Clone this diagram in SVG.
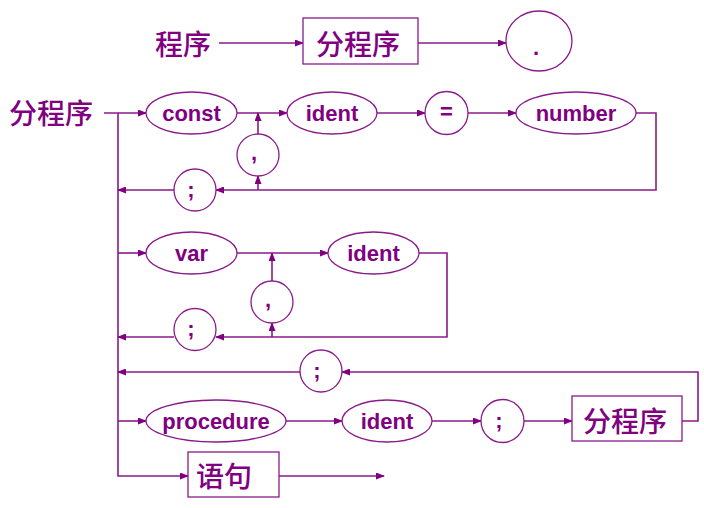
<svg xmlns="http://www.w3.org/2000/svg" width="704" height="508" viewBox="0 0 704 508">
<style>
.shape{fill:#fff;stroke:#8a1a8a;stroke-width:1.3}
.ln{fill:none;stroke:#8a1a8a;stroke-width:1.6;marker-end:url(#arr)}
.t{font-family:"Liberation Sans",Arial,sans-serif;font-weight:bold;font-size:22px;fill:#800080;text-anchor:middle}
.cn{font-family:"Noto Sans CJK SC","Noto Sans CJK TC",sans-serif;font-size:28px;font-weight:500;fill:#800080}
</style>
<defs>
<marker id="arr" markerWidth="9" markerHeight="7" refX="8" refY="3.5" orient="auto" markerUnits="userSpaceOnUse">
<path d="M0,0 L9,3.5 L0,7 z" fill="#800080"/>
</marker>
</defs>
<rect width="704" height="508" fill="#fff"/>
<g id="connectors">
<path class="ln" d="M219,43 H303"/>
<path class="ln" d="M418,43 H506"/>
<path class="ln" d="M104,113 H146"/>
<path class="ln" d="M118,113 V476 H188"/>
<path class="ln" d="M237,113 H287"/>
<path class="ln" d="M258,134 V113"/>
<path class="ln" d="M377,113 H425"/>
<path class="ln" d="M468,113 H516"/>
<path class="ln" d="M636,113 H656 V190 H216"/>
<path class="ln" d="M258,190 V176"/>
<path class="ln" d="M174,190 H118"/>
<path class="ln" d="M118,253 H146"/>
<path class="ln" d="M237,253 H328"/>
<path class="ln" d="M272,281 V253"/>
<path class="ln" d="M419,253 H447 V337 H216"/>
<path class="ln" d="M272,337 V323"/>
<path class="ln" d="M174,337 H118"/>
<path class="ln" d="M682,421 H698 V372 H342"/>
<path class="ln" d="M300,372 H118"/>
<path class="ln" d="M118,421 H146"/>
<path class="ln" d="M286,421 H342"/>
<path class="ln" d="M432,421 H481"/>
<path class="ln" d="M524,421 H572"/>
<path class="ln" d="M279,476 H384"/>
</g>
<g id="label-chengxu"><text class="cn" x="155" y="55">程序</text></g>
<g id="box-fenchengxu-top"><rect class="shape" x="303" y="18" width="115" height="46"/><text class="cn" x="358" y="55" text-anchor="middle">分程序</text></g>
<g id="dot"><ellipse class="shape" cx="539" cy="41" rx="33" ry="30"/><text class="t" x="536" y="55">.</text></g>
<g id="label-fenchengxu"><text class="cn" x="9" y="124">分程序</text></g>
<g id="const"><ellipse class="shape" cx="191.5" cy="113" rx="45.5" ry="21"/><text class="t" x="191.5" y="121">const</text></g>
<g id="comma1"><circle class="shape" cx="258" cy="155" r="21"/><text class="t" x="254" y="160">,</text></g>
<g id="ident1"><ellipse class="shape" cx="332" cy="113" rx="45" ry="21"/><text class="t" x="332" y="121">ident</text></g>
<g id="eq"><circle class="shape" cx="446.5" cy="113" r="21.5"/><text class="t" x="446.5" y="119">=</text></g>
<g id="number"><ellipse class="shape" cx="576" cy="113" rx="60" ry="21"/><text class="t" x="576" y="121">number</text></g>
<g id="semi1"><circle class="shape" cx="195" cy="190" r="21"/><text class="t" x="191" y="197">;</text></g>
<g id="var"><ellipse class="shape" cx="191.5" cy="253" rx="45.5" ry="21"/><text class="t" x="191.5" y="261">var</text></g>
<g id="comma2"><circle class="shape" cx="272" cy="302" r="21"/><text class="t" x="268" y="307">,</text></g>
<g id="ident2"><ellipse class="shape" cx="373.5" cy="253" rx="45.5" ry="21"/><text class="t" x="373.5" y="261">ident</text></g>
<g id="semi2"><circle class="shape" cx="195" cy="329.5" r="21"/><text class="t" x="191" y="336">;</text></g>
<g id="semi3"><circle class="shape" cx="321" cy="371" r="21"/><text class="t" x="317" y="378">;</text></g>
<g id="procedure"><ellipse class="shape" cx="216" cy="421" rx="70" ry="21"/><text class="t" x="216" y="429">procedure</text></g>
<g id="ident3"><ellipse class="shape" cx="387" cy="421" rx="45" ry="21"/><text class="t" x="387" y="429">ident</text></g>
<g id="semi4"><circle class="shape" cx="502.5" cy="421" r="21.5"/><text class="t" x="499" y="428">;</text></g>
<g id="box-fenchengxu-bottom"><rect class="shape" x="572" y="396" width="110" height="45"/><text class="cn" x="625" y="432" text-anchor="middle">分程序</text></g>
<g id="box-yuju"><rect class="shape" x="188" y="452" width="91" height="45"/><text class="cn" x="224" y="487" text-anchor="middle">语句</text></g>
</svg>
